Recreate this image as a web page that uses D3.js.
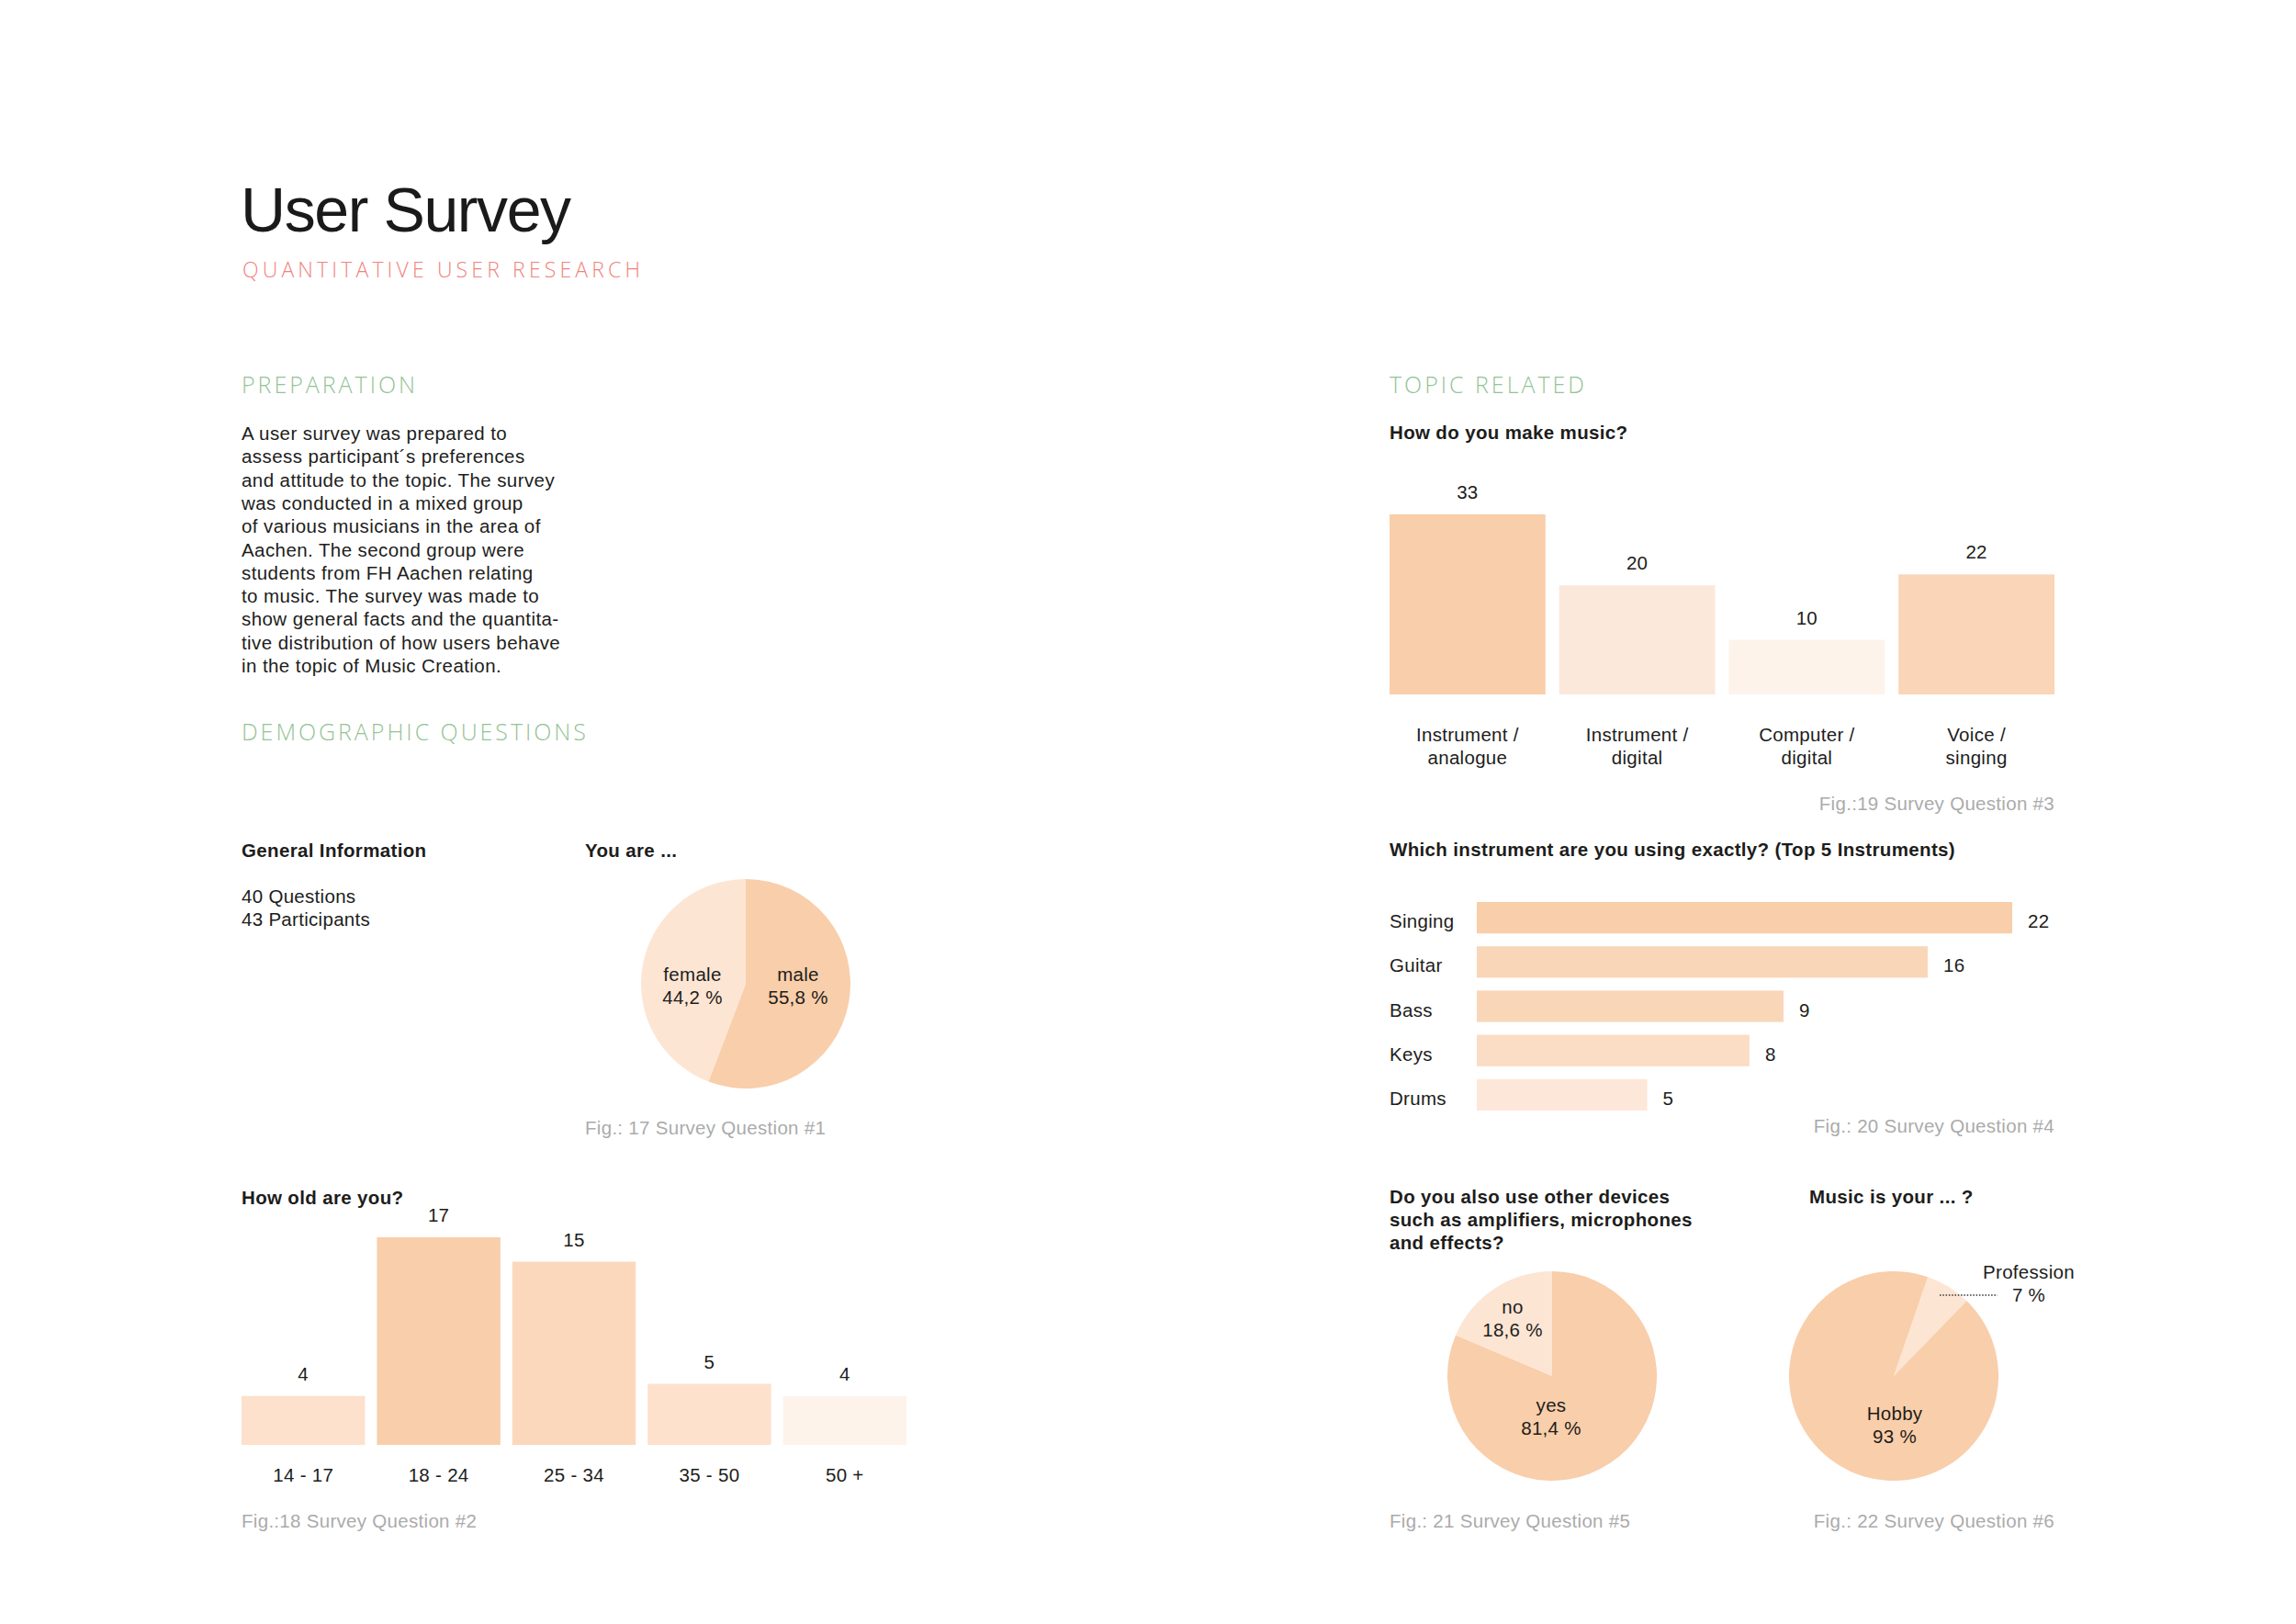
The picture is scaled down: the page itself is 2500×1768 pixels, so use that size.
<!DOCTYPE html>
<html><head><meta charset="utf-8">
<script src="https://cdn.jsdelivr.net/npm/d3@7"></script>
<style>
html,body{margin:0;padding:0;background:#fff;}
svg{display:block;}
</style></head><body><div id="chart"></div>
<script>
// ---------- DATA ----------
const titleText = "User Survey";
const subtitleText = "QUANTITATIVE USER RESEARCH";
const sectionHeadings = ["PREPARATION", "DEMOGRAPHIC QUESTIONS", "TOPIC RELATED"];
const bodyLines = [
  "A user survey was prepared to",
  "assess participant\u00b4s preferences",
  "and attitude to the topic. The survey",
  "was conducted in a mixed group",
  "of various musicians in the area of",
  "Aachen. The second group were",
  "students from FH Aachen relating",
  "to music. The survey was made to",
  "show general facts and the quantita-",
  "tive distribution of how users behave",
  "in the topic of Music Creation."
];
const generalInfoLines = ["40 Questions", "43 Participants"];

const genderLabels = ["male", "female"];
const genderValues = [55.8, 44.2];
const genderValueLabels = ["55,8 %", "44,2 %"];

const ageCategories = ["14 - 17", "18 - 24", "25 - 34", "35 - 50", "50 +"];
const ageValues = [4, 17, 15, 5, 4];

const musicCategories = [["Instrument /", "analogue"], ["Instrument /", "digital"], ["Computer /", "digital"], ["Voice /", "singing"]];
const musicValues = [33, 20, 10, 22];

const instrumentCategories = ["Singing", "Guitar", "Bass", "Keys", "Drums"];
const instrumentValues = [22, 16, 9, 8, 5];

const deviceLabels = ["yes", "no"];
const deviceValues = [81.4, 18.6];
const deviceValueLabels = ["81,4 %", "18,6 %"];

const roleLabels = ["Profession", "Hobby"];
const roleValues = [7, 93];
const roleValueLabels = ["7 %", "93 %"];

const questionTitles = {
  general: "General Information",
  gender: "You are ...",
  age: "How old are you?",
  music: "How do you make music?",
  instrument: "Which instrument are you using exactly? (Top 5 Instruments)",
  devices: ["Do you also use other devices", "such as amplifiers, microphones", "and effects?"],
  role: "Music is your ... ?"
};
const captions = ["Fig.: 17 Survey Question #1", "Fig.:18 Survey Question #2", "Fig.:19 Survey Question #3",
  "Fig.: 20 Survey Question #4", "Fig.: 21 Survey Question #5", "Fig.: 22 Survey Question #6"];

// ---------- STYLES ----------
const C_DARK = "#f9ceaa", C_MID = "#fad6b9", C_MID2 = "#fbdcc4", C_LIGHT = "#fde1cc", C_PALE = "#fde7d8", C_PALEST = "#fdf3ea";
const ageColors = [C_LIGHT, C_DARK, "#fbd8bc", C_LIGHT, C_PALEST];
const musicColors = [C_DARK, "#fce8da", C_PALEST, "#fad5b7"];
const instrumentColors = [C_DARK, C_MID, C_MID, C_MID2, C_PALE];
const genderColors = [C_DARK, "#fde5d4"];
const deviceColors = [C_DARK, "#fde5d4"];
const roleColors = ["#fde5d4", C_DARK];
const TEXT = "#1d1d1b", GREY = "#ababab", GREEN = "#94c395", SALMON = "#ef837d";
const FONT = "'Liberation Sans', Arial, Helvetica, sans-serif";
const LIGHTFONT = "'Open Sans', 'Liberation Sans', sans-serif";
const FS = 20.5;

// ---------- SETUP ----------
const W = 2500, H = 1768;
const svg = d3.select("#chart").append("svg").attr("width", W).attr("height", H)
  .style("font-family", FONT);
svg.append("rect").attr("width", W).attr("height", H).attr("fill", "#fff");

function txt(g, x, y, s, opts) {
  opts = opts || {};
  return g.append("text").attr("x", x).attr("y", y)
    .attr("font-size", opts.size || FS)
    .attr("font-weight", opts.bold ? "bold" : null)
    .attr("letter-spacing", opts.bold ? 0.35 : 0.3)
    .attr("text-anchor", opts.anchor || "start")
    .attr("fill", opts.fill || TEXT)
    .text(s);
}
function heading(x, y, s, width) {
  return svg.append("text").attr("x", x).attr("y", y).attr("font-size", 25)
    .attr("font-family", LIGHTFONT).attr("font-weight", 300).attr("fill", GREEN)
    .attr("textLength", width).attr("lengthAdjust", "spacing").text(s);
}

// ---------- HEADER ----------
svg.append("text").attr("x", 262).attr("y", 252).attr("font-size", 68)
  .attr("letter-spacing", -1.4).attr("fill", "#1a1a1a").text(titleText);
svg.append("text").attr("x", 264).attr("y", 302).attr("font-size", 23)
  .attr("font-family", LIGHTFONT).attr("font-weight", 300).attr("fill", SALMON)
  .attr("textLength", 433).attr("lengthAdjust", "spacing").text(subtitleText);

heading(263, 428, sectionHeadings[0], 189);
heading(263, 806, sectionHeadings[1], 375);
heading(1513, 428, sectionHeadings[2], 212);

// body text
bodyLines.forEach((l, i) => {
  txt(svg, 263, 479 + i * 25.3, l).attr("letter-spacing", 0.42);
});

// general info
txt(svg, 263, 933, questionTitles.general, { bold: true });
generalInfoLines.forEach((l, i) => txt(svg, 263, 983 + i * 25, l));

// ---------- PIE HELPER ----------
function drawPie(cx, cy, values, colors, startDeg) {
  const a0 = startDeg * Math.PI / 180;
  const pie = d3.pie().sort(null).startAngle(a0).endAngle(a0 + 2 * Math.PI);
  const arc = d3.arc().innerRadius(0).outerRadius(114);
  const g = svg.append("g").attr("transform", `translate(${cx},${cy})`);
  g.selectAll("path").data(pie(values)).join("path")
    .attr("d", arc).attr("fill", (d, i) => colors[i]);
  return g;
}
function pieLabel(g, dx, dy, l1, l2) {
  txt(g, dx, dy, l1, { anchor: "middle" });
  txt(g, dx, dy + 25, l2, { anchor: "middle" });
}

// ---------- GENDER PIE ----------
txt(svg, 637, 933, questionTitles.gender, { bold: true });
const gG = drawPie(812, 1071, genderValues, genderColors, 0);
pieLabel(gG, 57, -3, genderLabels[0], genderValueLabels[0]);
pieLabel(gG, -58, -3, genderLabels[1], genderValueLabels[1]);
txt(svg, 637, 1235, captions[0], { fill: GREY });

// ---------- AGE BARS ----------
txt(svg, 263, 1311, questionTitles.age, { bold: true });
const ageX = d3.scaleBand().domain(ageCategories).range([263, 987]).paddingInner(0.088);
const ageY = d3.scaleLinear().domain([0, 17]).range([1573, 1347]);
const gA = svg.append("g");
gA.selectAll("rect").data(ageValues).join("rect")
  .attr("x", (d, i) => ageX(ageCategories[i])).attr("y", d => ageY(d))
  .attr("width", ageX.bandwidth()).attr("height", d => ageY(0) - ageY(d))
  .attr("fill", (d, i) => ageColors[i]);
ageValues.forEach((d, i) => txt(gA, ageX(ageCategories[i]) + ageX.bandwidth() / 2, ageY(d) - 17, d, { anchor: "middle" }));
const ageAxis = gA.append("g").attr("transform", `translate(0,${ageY(0)})`)
  .call(d3.axisBottom(ageX).tickSize(0).tickPadding(25));
ageAxis.select(".domain").remove();
ageAxis.selectAll("text").attr("font-size", FS).attr("font-family", FONT).attr("fill", TEXT).attr("letter-spacing", 0.3);
txt(svg, 263, 1663, captions[1], { fill: GREY });

// ---------- MUSIC BARS ----------
txt(svg, 1513, 478, questionTitles.music, { bold: true });
const musicKeys = musicCategories.map(c => c.join(" "));
const mX = d3.scaleBand().domain(musicKeys).range([1513, 2237]).paddingInner(0.081);
const mY = d3.scaleLinear().domain([0, 33]).range([756, 560]);
const gM = svg.append("g");
gM.selectAll("rect").data(musicValues).join("rect")
  .attr("x", (d, i) => mX(musicKeys[i])).attr("y", d => mY(d))
  .attr("width", mX.bandwidth()).attr("height", d => mY(0) - mY(d))
  .attr("fill", (d, i) => musicColors[i]);
musicValues.forEach((d, i) => {
  const cx = mX(musicKeys[i]) + mX.bandwidth() / 2;
  txt(gM, cx, mY(d) - 17, d, { anchor: "middle" });
  txt(gM, cx, mY(0) + 51, musicCategories[i][0], { anchor: "middle" });
  txt(gM, cx, mY(0) + 76, musicCategories[i][1], { anchor: "middle" });
});
txt(svg, 2237, 882, captions[2], { fill: GREY, anchor: "end" });

// ---------- INSTRUMENT BARS ----------
txt(svg, 1513, 932, questionTitles.instrument, { bold: true });
const iY = d3.scaleBand().domain(instrumentCategories).range([982, 1209]).paddingInner(0.29);
// the figure is not drawn to one linear scale: the two longest bars are compressed
const iX = d3.scaleLinear().domain([0, 9, 16, 22]).range([1608, 1942, 2099, 2191]);
const gI = svg.append("g");
gI.selectAll("rect").data(instrumentValues).join("rect")
  .attr("x", iX(0)).attr("y", (d, i) => iY(instrumentCategories[i]))
  .attr("width", d => iX(d) - iX(0)).attr("height", iY.bandwidth())
  .attr("fill", (d, i) => instrumentColors[i]);
instrumentValues.forEach((d, i) => {
  const cy = iY(instrumentCategories[i]) + iY.bandwidth() / 2 + 11;
  txt(gI, 1513, cy, instrumentCategories[i]);
  txt(gI, iX(d) + 17, cy, d);
});
txt(svg, 2237, 1233, captions[3], { fill: GREY, anchor: "end" });

// ---------- DEVICES PIE ----------
questionTitles.devices.forEach((l, i) => txt(svg, 1513, 1310 + i * 25, l, { bold: true }));
const gD = drawPie(1690, 1498, deviceValues, deviceColors, 0);
pieLabel(gD, -1, 39, deviceLabels[0], deviceValueLabels[0]);
pieLabel(gD, -43, -68, deviceLabels[1], deviceValueLabels[1]);
txt(svg, 1513, 1663, captions[4], { fill: GREY });

// ---------- ROLE PIE ----------
txt(svg, 1970, 1310, questionTitles.role, { bold: true });
const gR = drawPie(2062, 1498, roleValues, roleColors, 19);
pieLabel(gR, 1, 48, roleLabels[1], roleValueLabels[1]);
txt(svg, 2209, 1392, roleLabels[0], { anchor: "middle" });
txt(svg, 2209, 1417, roleValueLabels[0], { anchor: "middle" });
svg.append("line").attr("x1", 2112).attr("x2", 2175).attr("y1", 1410).attr("y2", 1410)
  .attr("stroke", "#333").attr("stroke-width", 1.5).attr("stroke-dasharray", "1.5,1.8");
txt(svg, 2237, 1663, captions[5], { fill: GREY, anchor: "end" });
</script></body></html>
